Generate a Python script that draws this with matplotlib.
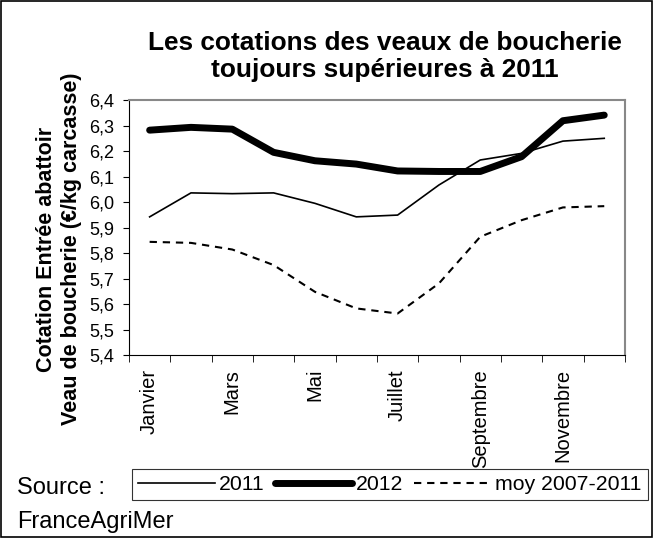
import matplotlib
matplotlib.use("Agg")
import matplotlib.pyplot as plt
from matplotlib.patches import Rectangle

plt.rcParams['font.family'] = ['Liberation Sans', 'DejaVu Sans']

# data (EUR/kg carcasse)
mois = ['Janvier', 'Février', 'Mars', 'Avril', 'Mai', 'Juin', 'Juillet',
        'Août', 'Septembre', 'Octobre', 'Novembre', 'Décembre']
v2011 = [5.942, 6.036, 6.033, 6.036, 5.995, 5.942, 5.949, 6.067, 6.165, 6.191, 6.239, 6.250]
v2012 = [6.282, 6.293, 6.286, 6.195, 6.162, 6.149, 6.122, 6.120, 6.120, 6.178, 6.319, 6.341]
moy = [5.844, 5.840, 5.814, 5.753, 5.648, 5.583, 5.563, 5.681, 5.864, 5.929, 5.979, 5.984]
yticks = [5.4, 5.5, 5.6, 5.7, 5.8, 5.9, 6.0, 6.1, 6.2, 6.3, 6.4]

fig = plt.figure(figsize=(6.53, 5.38), dpi=100)
ax = fig.add_axes([0.1975, 0.340, 0.7595, 0.474])

x = list(range(len(mois)))
ax.plot(x, v2011, color='black', lw=1.2, label='2011')
ax.plot(x, v2012, color='black', lw=5, solid_capstyle='round', label='2012')
ax.plot(x, moy, color='black', lw=1.5, ls=(0, (3.5, 2.8)), label='moy 2007-2011')

ax.set_xlim(-0.5, 11.5)
ax.set_ylim(5.4, 6.4)
ax.set_yticks(yticks)
ax.set_yticklabels([f"{v:.1f}".replace('.', ',') for v in yticks], fontsize=13)

# labels at every other month, tick marks between categories
ax.set_xticks(x[::2])
ax.set_xticklabels(mois[::2], rotation=90, fontsize=14.5, va='top')
ax.set_xticks([i - 0.5 for i in range(13)], minor=True)
ax.tick_params(axis='x', which='major', length=0, pad=10)
ax.tick_params(axis='x', which='minor', length=5, direction='out')
ax.tick_params(axis='y', length=4.5, direction='out', pad=6)

ax.spines['top'].set_color('#888888')
ax.spines['right'].set_color('#888888')
ax.spines['top'].set_linewidth(1.5)
ax.spines['right'].set_linewidth(1.5)

# y axis title, two centred lines
fig.text(0.0904, 0.537, "Cotation Entrée abattoir\nVeau de boucherie (€/kg carcasse)",
         rotation=90, ha='center', va='center', fontsize=15.5, fontweight='bold',
         linespacing=1.2, multialignment='center')

fig.text(0.589, 0.895, "Les cotations des veaux de boucherie\ntoujours supérieures à 2011",
         ha='center', va='center', fontsize=18.9, fontweight='bold', linespacing=1.2)

leg = fig.legend(loc='center left', bbox_to_anchor=(0.202, 0.0994), ncol=3, fontsize=15.3,
                 frameon=True, fancybox=False, edgecolor='black', handlelength=3.6,
                 handletextpad=0.2, columnspacing=0.5, borderpad=0.3, borderaxespad=0)
leg.get_frame().set_linewidth(0.8)

fig.text(0.026, 0.093, "Source :", fontsize=17, va='center')
fig.text(0.026, 0.029, "FranceAgriMer", fontsize=17, va='center')

fig.add_artist(Rectangle((0.002, 0.002), 0.996, 0.996, transform=fig.transFigure,
                         fill=False, edgecolor='black', lw=1.2))

fig.savefig('out.png', dpi=100)
